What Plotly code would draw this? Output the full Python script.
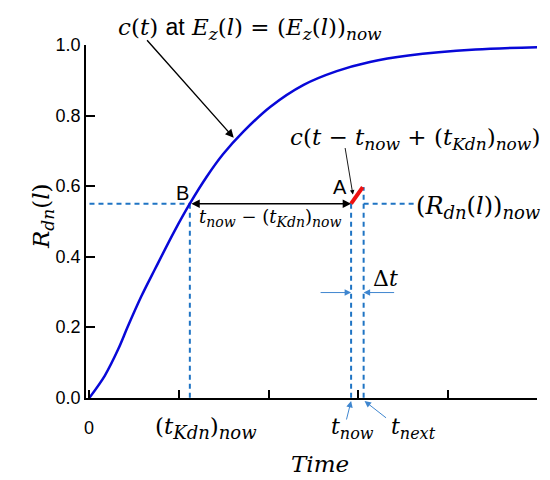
import plotly.graph_objects as go

# response curve c(t)
time_pts = [0.0, 0.17, 0.32, 0.43, 0.58, 0.73, 0.95, 1.12, 1.31, 1.49, 1.72,
            2.02, 2.39, 2.76, 3.13, 3.56, 4.31, 5.0]
conc_pts = [0.0, 0.062, 0.137, 0.203, 0.288, 0.364, 0.473, 0.55, 0.627, 0.69, 0.755,
            0.825, 0.887, 0.926, 0.952, 0.970, 0.987, 0.994]

# marked instants and level
t_kdn = 1.12
t_now = 2.92
t_next = 3.06
r_now = 0.55
dash_end = 3.62

# shifted curve over one step (red piece)
step_t = [2.92, 3.05]
step_c = [0.55, 0.597]

x_ticks = [0, 1, 2, 3, 4, 5]
y_ticks = [0.0, 0.2, 0.4, 0.6, 0.8, 1.0]

# page body has an 8px margin, so the figure is drawn 8px in
OFF = 8
W, H = 550 - OFF, 480 - OFF
ML, MR, MT, MB = 86 - OFF, 13, 45 - OFF, 82
MATH = "DejaVu Serif"
SANS = "Liberation Sans"
DASH_BLUE = "#1f74c4"
ARROW_BLUE = "#3f86cf"


def paper(x, y):
    # page pixel position -> paper coords
    x, y = x - OFF, y - OFF
    return (x - ML) / (W - ML - MR), (H - MB - y) / (H - MB - MT)


fig = go.Figure()

dash = dict(color=DASH_BLUE, width=2, dash="5px,4px")
fig.add_trace(go.Scatter(x=[0, t_kdn], y=[r_now, r_now], mode="lines", line=dash))
fig.add_trace(go.Scatter(x=[t_next, dash_end], y=[r_now, r_now], mode="lines", line=dash))
fig.add_trace(go.Scatter(x=[t_kdn, t_kdn], y=[0, r_now], mode="lines", line=dash))
fig.add_trace(go.Scatter(x=[t_now, t_now], y=[0, r_now], mode="lines", line=dash))
fig.add_trace(go.Scatter(x=[t_next, t_next], y=[0, step_c[-1]], mode="lines", line=dash))

fig.add_trace(go.Scatter(x=time_pts, y=conc_pts, mode="lines",
                         line=dict(color="#0808d8", width=2.5, shape="spline", smoothing=0.9)))
fig.add_trace(go.Scatter(x=step_t, y=step_c, mode="lines",
                         line=dict(color="#ee1111", width=4)))

anns = []


def text(x, y, s, size=23, font=MATH, xref="x", yref="y", xanchor="center"):
    anns.append(dict(x=x, y=y, xref=xref, yref=yref, text=s, showarrow=False,
                     xanchor=xanchor, yanchor="middle",
                     font=dict(family=font, size=size, color="black")))


def sub(s, size=17):
    return "<sub><i><span style='font-size:%dpx'>%s</span></i></sub>" % (size, s)


# top label and its arrow
px, py = paper(250, 29)
text(px, py, "<i>c</i>(<i>t</i>) <span style='font-family:Liberation Sans'>at</span> <i>E</i>" + sub("z")
     + "(<i>l</i>) = (<i>E</i>" + sub("z") + "(<i>l</i>))" + sub("now"),
     xref="paper", yref="paper")
anns.append(dict(x=1.61, y=0.737, xref="x", yref="y", ax=-88, ay=-99, text="",
                 showarrow=True, arrowhead=2, arrowsize=1.2, arrowwidth=1.4, arrowcolor="black"))

text(1.04, 0.58, "B", size=20, font=SANS)
text(2.80, 0.598, "A", size=20, font=SANS)

# double arrow B <-> A
anns.append(dict(x=t_now, y=r_now, ax=t_kdn, ay=r_now, xref="x", yref="y", axref="x", ayref="y",
                 text="", showarrow=True, arrowhead=2, startarrowhead=2, arrowside="end+start",
                 arrowsize=1.2, startarrowsize=1.2, arrowwidth=1.4, arrowcolor="black"))
text(2.01, 0.51, "<i>t</i>" + sub("now", 14) + " \u2212 (<i>t</i>" + sub("Kdn", 14) + ")" + sub("now", 14),
     size=18)

# shifted curve label
text(3.63, 0.734, "<i>c</i>(<i>t</i> \u2212 <i>t</i>" + sub("now") + " + (<i>t</i>" + sub("Kdn") + ")"
     + sub("now") + ")")
anns.append(dict(x=2.94, y=0.576, xref="x", yref="y", ax=-8, ay=-48, text="",
                 showarrow=True, arrowhead=2, arrowsize=1.0, arrowwidth=0.9, arrowcolor="black"))

text(3.62, 0.539, "(<i>R</i>" + sub("dn", 18) + "(<i>l</i>))" + sub("now", 18), size=24, xanchor="left")

# delta t
text(3.30, 0.338, "\u0394<i>t</i>", size=22)
anns.append(dict(x=t_now, y=0.298, xref="x", yref="y", ax=-32, ay=0, text="",
                 showarrow=True, arrowhead=2, arrowsize=1.3, arrowwidth=1, arrowcolor=ARROW_BLUE))
anns.append(dict(x=t_next, y=0.298, xref="x", yref="y", ax=32, ay=0, text="",
                 showarrow=True, arrowhead=2, arrowsize=1.3, arrowwidth=1, arrowcolor=ARROW_BLUE))

# labels under the axis
_, yb = paper(0, 428)
text(0, yb, "0", size=18, font=SANS, yref="paper")
text(1.30, yb, "(<i>t</i>" + sub("Kdn", 18) + ")" + sub("now", 18), yref="paper")
text(2.93, yb, "<i>t</i>" + sub("now", 16), size=22, yref="paper")
text(3.62, yb, "<i>t</i>" + sub("next", 16), size=22, yref="paper")
_, ya = paper(0, 401)
anns.append(dict(x=t_now, y=ya, xref="x", yref="paper", ax=-5, ay=20, text="",
                 showarrow=True, arrowhead=2, arrowsize=1.3, arrowwidth=1, arrowcolor=ARROW_BLUE))
anns.append(dict(x=t_next + 0.01, y=ya, xref="x", yref="paper", ax=23, ay=18, text="",
                 showarrow=True, arrowhead=2, arrowsize=1.3, arrowwidth=1, arrowcolor=ARROW_BLUE))

px, py = paper(320, 464)
text(px, py, "<i>Time</i>", xref="paper", yref="paper")

px, py = paper(26, 216)
anns.append(dict(x=px, y=py, xref="paper", yref="paper",
                 text="<i>R</i>" + sub("dn", 17) + "(<i>l</i>)",
                 showarrow=False, textangle=-90, font=dict(family=MATH, size=23, color="black")))

fig.update_layout(
    width=W, height=H,
    margin=dict(l=ML, r=MR, t=MT, b=MB),
    paper_bgcolor="white", plot_bgcolor="white",
    showlegend=False,
    annotations=anns,
    xaxis=dict(range=[-0.039, 4.995], tickvals=x_ticks, showticklabels=False,
               ticks="inside", ticklen=8, tickwidth=1.5, tickcolor="black",
               showline=True, linecolor="black", linewidth=1.5,
               showgrid=False, zeroline=False, fixedrange=True),
    yaxis=dict(range=[-0.001, 1.0], tickvals=y_ticks, tickformat=".1f",
               ticks="inside", ticklen=9, tickwidth=1.5, tickcolor="black",
               showline=True, linecolor="black", linewidth=1.5,
               tickfont=dict(family=SANS, size=18, color="black"),
               showgrid=False, zeroline=False, fixedrange=True),
)

fig.write_html("out.html")
